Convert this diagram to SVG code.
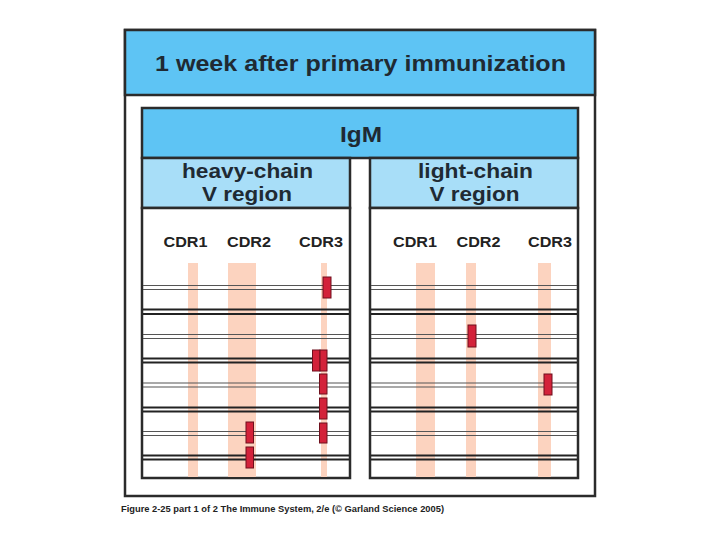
<svg xmlns="http://www.w3.org/2000/svg" width="720" height="540" viewBox="0 0 720 540">
<style>
.frame{fill:none;stroke:#2b2b2b;stroke-width:2.5}
.hdr{fill:#5ec4f4;stroke:#2b2b2b;stroke-width:2.5}
.sub{fill:#a8def8;stroke:#2b2b2b;stroke-width:2.5}
.panel{fill:#fff;stroke:#2b2b2b;stroke-width:2.5}
.band{fill:#fcd3bf}
.t{font-family:"Liberation Sans",Arial,sans-serif;font-weight:bold;fill:#1f2a33;text-anchor:middle}
.cdr{font-family:"Liberation Sans",Arial,sans-serif;font-weight:bold;fill:#222;text-anchor:middle;font-size:14.5px}
.lg{stroke:#555;stroke-width:1.2}
.ld{stroke:#222;stroke-width:1.8}
.mut{fill:#d3223a;stroke:#6e0f1c;stroke-width:1}
</style>
<rect width="720" height="540" fill="#fff"/>
<g id="outer">
<rect x="125" y="30" width="470" height="466" class="frame" fill="#fff"/>
<rect x="125" y="30" width="470" height="65" class="hdr"/>
<text x="360.5" y="70.5" class="t" font-size="21.5" textLength="411" lengthAdjust="spacingAndGlyphs">1 week after primary immunization</text>
</g>
<g id="igm">
<rect x="142" y="108" width="436" height="50" class="hdr"/>
<text x="361" y="142" class="t" font-size="22" textLength="42" lengthAdjust="spacingAndGlyphs">IgM</text>
</g>
<g id="heavy">
<rect x="142" y="158" width="208" height="50" class="sub"/>
<text x="247.5" y="178" class="t" font-size="19.5" textLength="131" lengthAdjust="spacingAndGlyphs">heavy-chain</text>
<text x="247" y="201" class="t" font-size="19.5" textLength="90" lengthAdjust="spacingAndGlyphs">V region</text>
<rect x="142" y="208" width="208" height="270" class="panel"/>
<text x="185.5" y="247" class="cdr" textLength="44" lengthAdjust="spacingAndGlyphs">CDR1</text>
<text x="249" y="247" class="cdr" textLength="44" lengthAdjust="spacingAndGlyphs">CDR2</text>
<text x="321" y="247" class="cdr" textLength="44" lengthAdjust="spacingAndGlyphs">CDR3</text>
<rect x="188" y="263" width="10" height="214" class="band"/>
<rect x="228" y="263" width="28" height="214" class="band"/>
<rect x="321" y="263" width="6" height="214" class="band"/>
<g>
<line x1="143" x2="349" y1="285.5" y2="285.5" class="lg"/><line x1="143" x2="349" y1="289.5" y2="289.5" class="lg"/>
<line x1="143" x2="349" y1="309.5" y2="309.5" class="ld"/><line x1="143" x2="349" y1="314" y2="314" class="ld"/>
<line x1="143" x2="349" y1="334.5" y2="334.5" class="lg"/><line x1="143" x2="349" y1="338.5" y2="338.5" class="lg"/>
<line x1="143" x2="349" y1="358.5" y2="358.5" class="ld"/><line x1="143" x2="349" y1="362.5" y2="362.5" class="ld"/>
<line x1="143" x2="349" y1="383" y2="383" class="lg"/><line x1="143" x2="349" y1="387" y2="387" class="lg"/>
<line x1="143" x2="349" y1="407.5" y2="407.5" class="ld"/><line x1="143" x2="349" y1="411.5" y2="411.5" class="ld"/>
<line x1="143" x2="349" y1="431.5" y2="431.5" class="lg"/><line x1="143" x2="349" y1="435.5" y2="435.5" class="lg"/>
<line x1="143" x2="349" y1="455.5" y2="455.5" class="ld"/><line x1="143" x2="349" y1="459.5" y2="459.5" class="ld"/>
</g>
<rect x="323" y="277" width="8" height="21" class="mut"/>
<rect x="312.5" y="350" width="7.5" height="21" class="mut"/>
<rect x="320" y="350" width="7" height="21" class="mut"/>
<rect x="319.5" y="374" width="7.5" height="20" class="mut"/>
<rect x="319.5" y="398" width="7.5" height="21" class="mut"/>
<rect x="319.5" y="423" width="7.5" height="20" class="mut"/>
<rect x="246" y="422" width="7.5" height="21" class="mut"/>
<rect x="246" y="447" width="7.5" height="21" class="mut"/>
</g>
<g id="light">
<rect x="370" y="158" width="208" height="50" class="sub"/>
<text x="475.5" y="178" class="t" font-size="19.5" textLength="115" lengthAdjust="spacingAndGlyphs">light-chain</text>
<text x="474.5" y="201" class="t" font-size="19.5" textLength="90" lengthAdjust="spacingAndGlyphs">V region</text>
<rect x="370" y="208" width="208" height="270" class="panel"/>
<text x="415" y="247" class="cdr" textLength="44" lengthAdjust="spacingAndGlyphs">CDR1</text>
<text x="478.5" y="247" class="cdr" textLength="44" lengthAdjust="spacingAndGlyphs">CDR2</text>
<text x="550" y="247" class="cdr" textLength="44" lengthAdjust="spacingAndGlyphs">CDR3</text>
<rect x="416" y="263" width="19" height="214" class="band"/>
<rect x="466" y="263" width="10" height="214" class="band"/>
<rect x="538" y="263" width="13" height="214" class="band"/>
<g>
<line x1="371" x2="577" y1="285.5" y2="285.5" class="lg"/><line x1="371" x2="577" y1="289.5" y2="289.5" class="lg"/>
<line x1="371" x2="577" y1="309.5" y2="309.5" class="ld"/><line x1="371" x2="577" y1="314" y2="314" class="ld"/>
<line x1="371" x2="577" y1="334.5" y2="334.5" class="lg"/><line x1="371" x2="577" y1="338.5" y2="338.5" class="lg"/>
<line x1="371" x2="577" y1="358.5" y2="358.5" class="ld"/><line x1="371" x2="577" y1="362.5" y2="362.5" class="ld"/>
<line x1="371" x2="577" y1="383" y2="383" class="lg"/><line x1="371" x2="577" y1="387" y2="387" class="lg"/>
<line x1="371" x2="577" y1="407.5" y2="407.5" class="ld"/><line x1="371" x2="577" y1="411.5" y2="411.5" class="ld"/>
<line x1="371" x2="577" y1="431.5" y2="431.5" class="lg"/><line x1="371" x2="577" y1="435.5" y2="435.5" class="lg"/>
<line x1="371" x2="577" y1="455.5" y2="455.5" class="ld"/><line x1="371" x2="577" y1="459.5" y2="459.5" class="ld"/>
</g>
<rect x="468" y="325" width="8" height="22" class="mut"/>
<rect x="544" y="374" width="8" height="21" class="mut"/>
</g>
<text x="121" y="512" font-family="'Liberation Sans',Arial,sans-serif" font-weight="bold" font-size="9.5" fill="#222" textLength="323" lengthAdjust="spacingAndGlyphs">Figure 2-25 part 1 of 2  The Immune System, 2/e (© Garland Science 2005)</text>
</svg>
